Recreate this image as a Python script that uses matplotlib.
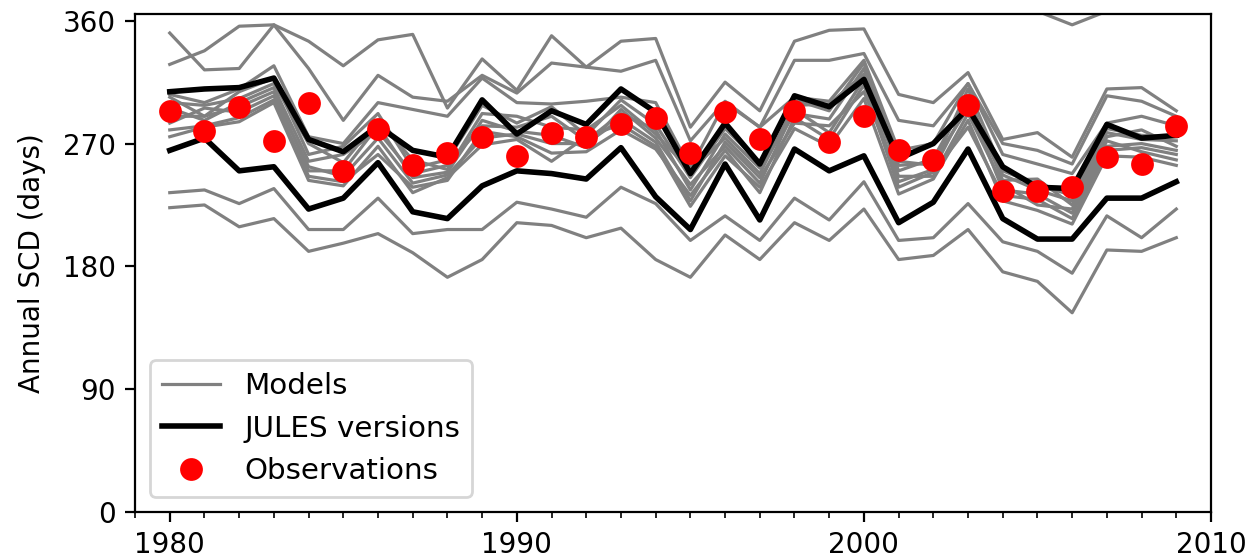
import matplotlib.pyplot as plt
from matplotlib.ticker import MultipleLocator

years = list(range(1980, 2010))

# observed annual snow cover duration (days)
obs = [294, 279, 297, 272, 300, 250, 281, 254, 263, 275,
       261, 278, 275, 284, 289, 263, 293, 273, 294, 271,
       290, 265, 258, 298, 235, 235, 238, 260, 255, 283]

# JULES versions
jules_hi = [308, 310, 311, 318, 273, 264, 283, 265, 260, 302,
            277, 294, 284, 310, 293, 248, 285, 255, 305, 297,
            317, 259, 270, 296, 253, 238, 237, 284, 274, 276]
jules_lo = [265, 274, 250, 253, 222, 230, 256, 220, 215, 239,
            250, 248, 244, 267, 231, 207, 255, 214, 266, 250,
            261, 212, 227, 266, 215, 200, 200, 230, 230, 242]

# other models
m_top1 = [351, 324, 325, 357, 345, 327, 346, 350, 296, 332,
          309, 349, 326, 345, 347, 282, 315, 294, 345, 353,
          354, 306, 300, 322, 273, 278, 260, 310, 311, 294]
m_top2 = [328, 338, 356, 357, 325, 287, 320, 304, 301, 320,
          307, 329, 326, 323, 331, 272, 301, 282, 331, 331,
          336, 287, 283, 314, 270, 265, 255, 305, 301, 290]
m_top3 = [306, 300, 310, 327, 275, 270, 300, 295, 290, 318,
          300, 299, 301, 304, 300, 252, 300, 282, 304, 301,
          331, 265, 270, 314, 262, 255, 248, 285, 290, 283]
m_over = [385, 390, 392, 395, 388, 380, 390, 392, 380, 388,
          385, 392, 386, 390, 390, 375, 385, 380, 392, 395,
          398, 378, 376, 385, 372, 367, 357, 367, 380, 378]
m_b1 = [304, 290, 308, 318, 262, 268, 292, 252, 258, 298,
        285, 297, 276, 302, 284, 245, 281, 256, 302, 294,
        329, 257, 254, 310, 250, 240, 232, 281, 276, 275]
m_b2 = [300, 298, 303, 314, 270, 256, 287, 258, 251, 292,
        290, 282, 280, 298, 277, 250, 274, 248, 298, 299,
        321, 250, 259, 305, 243, 244, 225, 275, 280, 268]
m_b3 = [296, 287, 300, 311, 257, 262, 279, 248, 254, 283,
        282, 290, 272, 292, 280, 236, 277, 252, 292, 288,
        325, 254, 256, 296, 247, 236, 228, 278, 273, 272]
m_b4 = [290, 290, 297, 308, 250, 250, 283, 245, 249, 287,
        279, 276, 267, 295, 274, 240, 268, 241, 295, 278,
        317, 242, 251, 300, 236, 233, 219, 268, 270, 265]
m_b5 = [285, 296, 293, 305, 253, 246, 274, 241, 247, 274,
        277, 270, 270, 288, 271, 228, 271, 245, 285, 283,
        308, 246, 246, 292, 240, 225, 222, 272, 264, 258]
m_b6 = [280, 283, 289, 302, 246, 242, 262, 238, 243, 279,
        275, 263, 264, 280, 266, 232, 265, 234, 289, 273,
        313, 238, 249, 282, 232, 229, 215, 265, 267, 262]
m_b7 = [275, 282, 286, 300, 243, 239, 268, 234, 245, 269,
        273, 257, 275, 284, 268, 224, 261, 238, 281, 268,
        303, 233, 244, 287, 228, 221, 211, 261, 260, 254]
m_low1 = [234, 236, 226, 237, 207, 207, 230, 204, 207, 207,
          227, 222, 216, 238, 226, 199, 217, 199, 230, 214,
          242, 199, 201, 226, 198, 191, 175, 217, 201, 222]
m_low2 = [223, 225, 209, 215, 191, 197, 204, 190, 172, 185,
          212, 210, 201, 208, 185, 172, 203, 185, 212, 199,
          222, 185, 188, 207, 176, 169, 146, 192, 191, 201]

models = [m_top1, m_top2, m_top3, m_over, m_b1, m_b2, m_b3, m_b4,
          m_b5, m_b6, m_b7, m_low1, m_low2]

fig = plt.figure(figsize=(6.27, 2.795), dpi=200)
ax = fig.add_axes([0.1077, 0.0841, 0.858, 0.891])

for i, m in enumerate(models):
    ax.plot(years, m, color="grey", lw=1.15, label="Models" if i == 0 else None)
ax.plot(years, jules_hi, color="black", lw=2.0, label="JULES versions")
ax.plot(years, jules_lo, color="black", lw=2.0)
ax.plot(years, obs, "o", color="red", ms=7.2, label="Observations", zorder=5)

ax.set_xlim(1979, 2010)
ax.set_ylim(0, 365)
ax.set_yticks([0, 90, 180, 270, 360])
ax.set_xticks([1980, 1990, 2000, 2010])
ax.xaxis.set_minor_locator(MultipleLocator(1))
ax.set_ylabel("Annual SCD (days)", labelpad=6)
ax.legend(loc="lower left", fontsize=10.6)

fig.savefig("out.png", dpi=200)
